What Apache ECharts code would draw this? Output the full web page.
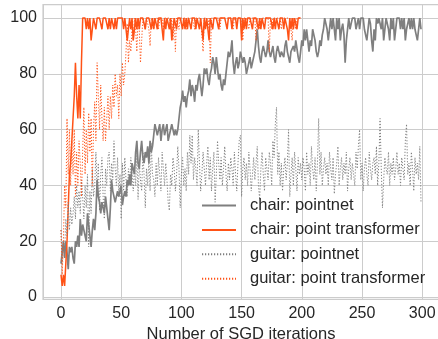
<!DOCTYPE html>
<html><head><meta charset="utf-8">
<script src="https://cdn.jsdelivr.net/npm/echarts@6/dist/echarts.min.js"></script>
<style>html,body{margin:0;padding:0;background:#fff}#c{width:438px;height:339px}</style>
</head><body><div id="c"></div>
<script>
const seriesNames = ['chair: pointnet', 'chair: point transformer', 'guitar: pointnet', 'guitar: point transformer'];
const xTitle = 'Number of SGD iterations';

const chairPointnet = [
12,16,20,14,20,16,10,18,16,18,14,12,20,18,22,18,28,22,26,24,
24,20,30,26,22,18,24,28,24,30,42,36,34,30,34,32,30,36,32,28,
24,32,42,38,36,34,36,38,36,38,40,33,36,38,36,42,40,44,40,48,
46,44,52,56,48,46,52,56,50,48,52,50,54,48,56,52,54,58,62,60,
58,60,62,56,60,62,58,60,62,56,58,60,62,60,58,60,58,60,64,68,
70,74,70,72,68,72,74,78,72,76,74,70,76,74,78,80,76,72,76,82,
80,82,78,76,80,82,86,84,80,86,82,78,80,76,74,78,76,80,84,88,
86,88,92,84,80,84,86,82,84,88,88,84,86,84,80,82,84,86,82,84,
86,88,92,96,90,86,84,88,90,88,86,88,92,88,86,88,90,86,84,88,
90,88,86,88,88,86,90,92,88,86,84,88,88,90,88,92,92,86,84,88,
92,90,96,92,96,92,88,92,90,96,94,92,88,86,88,92,90,94,96,100,
100,96,92,96,100,96,100,96,92,100,96,100,92,96,98,94,84,92,96,100,
96,98,100,100,100,96,96,100,96,100,100,100,96,94,92,96,100,98,92,88,
96,92,100,98,100,100,96,100,92,96,100,100,96,92,100,96,100,92,96,100,
100,100,96,100,96,100,92,96,96,100,96,100,96,100,96,94,92,96,100,96
];

const chairPointTransformer = [
8,4,8,4,4,20,32,44,48,56,64,72,84,72,64,76,64,84,100,100,
100,96,100,96,100,92,96,100,100,96,100,100,100,100,96,100,100,100,100,96,
100,96,100,100,96,100,96,100,100,100,100,100,96,100,96,92,96,100,96,100,
92,96,100,96,100,96,100,100,100,100,96,100,100,100,100,96,100,96,100,100,
96,100,100,100,96,92,100,96,100,100,96,100,92,96,100,100,96,100,100,100,
100,96,100,96,100,96,100,100,96,100,100,100,96,100,100,96,100,96,92,100,
96,100,96,92,100,100,96,100,100,100,100,96,100,100,100,100,100,100,96,100,
100,100,96,100,100,100,96,100,100,100,92,100,96,100,96,100,100,100,100,96,
100,100,100,100,96,100,96,100,100,96,100,100,100,100,100,100,96,100,96,100,
100,96,100,100,100,96,100,100,96,92,100,96,100,96,100,100,96,100,100,100
];

const guitarPointnet = [
24,12,20,16,28,22,34,24,32,26,30,36,28,40,32,38,30,42,36,28,
40,32,44,18,38,30,46,36,40,52,38,48,31,44,50,36,28,46,40,50,
52,38,48,42,56,46,40,50,36,44,28,48,38,50,42,36,46,40,50,44,
38,46,40,52,35,48,42,38,52,44,32,46,40,50,38,55,44,42,36,48,
40,50,44,38,52,46,40,48,42,34,31,44,40,50,46,38,44,54,46,32,
44,50,40,46,38,52,44,58,48,58,42,50,46,40,60,48,38,44,52,46,
40,48,54,42,50,38,46,52,34,44,56,48,42,50,40,46,54,44,38,48,
42,50,46,40,52,44,38,48,56,58,36,46,50,42,48,40,52,46,38,44,
50,42,48,54,40,35,46,52,44,38,50,46,42,52,48,40,56,50,62,68,
44,52,40,48,38,46,50,42,48,60,36,44,50,40,52,46,38,50,44,48,
42,50,46,38,52,44,48,40,54,46,42,50,38,48,64,44,52,40,46,50,
44,48,40,52,46,42,50,37,44,48,54,40,46,50,42,48,44,52,38,46,
50,42,48,44,40,52,46,54,60,42,48,38,46,50,44,40,52,46,42,48,
50,44,54,40,48,64,46,32,42,50,46,44,52,40,48,44,50,42,46,52,
44,48,40,50,46,42,56,62,44,48,40,52,46,38,50,44,48,42,54,34
];

const guitarPointTransformer = [
24,8,20,40,32,64,44,60,40,56,44,60,36,52,40,56,48,36,52,68,
44,60,48,66,52,64,40,60,70,56,84,72,60,76,64,56,68,56,64,72,
60,72,64,76,68,80,72,76,64,80,72,84,76,80,88,98,84,92,88,96,
92,100,96,88,100,96,84,92,100,100,96,100,100,96,90,100,100,96,100,100,
100,96,100,100,100,96,100,100,100,100,100,96,100,92,100,88,100,100,96,100,
100,100,100,100,96,100,100,100,100,100,100,96,100,100,100,100,100,100,88,100,
100,100,96,100,84,100,100,100,100,100,100,100,96,100,100,100,100,100,100,100,
100,100,100,96,100,100,100,100,100,100,100,92,100,100,100,100,96,100,100,100,
100,100,92,100,100,96,100,100,100,100,100,100,100,88,100,96,100,100,100,100,
100,100,100,96,100,100,100,100,100,100,100,100,92,100,100,96,100,100,100,100
];

const GRAY = '#7f7f7f';
const ORANGE = '#ff5216';
const FONT = 'Liberation Sans';
const TXT = '#262626';

const pairs = arr => arr.map((v, i) => [i, v]);

const chart = echarts.init(document.getElementById('c'), null, {renderer: 'canvas'});
chart.setOption({
  animation: false,
  backgroundColor: '#ffffff',
  grid: {left: 43, top: 4.7, width: 396, height: 294.6, show: true, borderColor: '#cccccc', borderWidth: 1.2,
         containLabel: false, outerBoundsMode: 'none'},
  xAxis: {
    type: 'value', min: -14.95, max: 313.95, minInterval: 50, maxInterval: 50,
    axisLine: {show: false}, axisTick: {show: false},
    splitLine: {show: true, lineStyle: {color: '#cccccc', width: 1}},
    axisLabel: {showMinLabel: false, showMaxLabel: false, fontFamily: FONT, fontSize: 16, color: TXT, margin: 6},
    name: xTitle, nameLocation: 'middle', nameGap: 22,
    nameTextStyle: {fontFamily: FONT, fontSize: 16.5, color: TXT}
  },
  yAxis: {
    type: 'value', min: -0.8, max: 104.8, minInterval: 20, maxInterval: 20,
    axisLine: {show: false}, axisTick: {show: false},
    splitLine: {show: true, lineStyle: {color: '#cccccc', width: 1}},
    axisLabel: {showMinLabel: false, showMaxLabel: false, fontFamily: FONT, fontSize: 16, color: TXT, margin: 6}
  },
  legend: {
    orient: 'vertical', left: 196, top: 192, itemWidth: 34, itemHeight: 16, itemGap: 7.4,
    itemStyle: {opacity: 0, borderWidth: 0},
    textStyle: {fontFamily: FONT, fontSize: 16.5, color: TXT, padding: [0, 0, 0, 9]},
    data: seriesNames
  },
  series: [
    {name: seriesNames[0], type: 'line', data: pairs(chairPointnet), symbol: 'none', color: GRAY,
     lineStyle: {color: GRAY, width: 1.7}},
    {name: seriesNames[1], type: 'line', data: pairs(chairPointTransformer), symbol: 'none', color: ORANGE,
     lineStyle: {color: ORANGE, width: 1.5}},
    {name: seriesNames[2], type: 'line', data: pairs(guitarPointnet), symbol: 'none', color: GRAY,
     lineStyle: {color: GRAY, width: 1.0, type: [1.2, 1.8]}},
    {name: seriesNames[3], type: 'line', data: pairs(guitarPointTransformer), symbol: 'none', color: ORANGE,
     lineStyle: {color: ORANGE, width: 1.0, type: [1.2, 1.8]}}
  ]
});
</script>
</body></html>
